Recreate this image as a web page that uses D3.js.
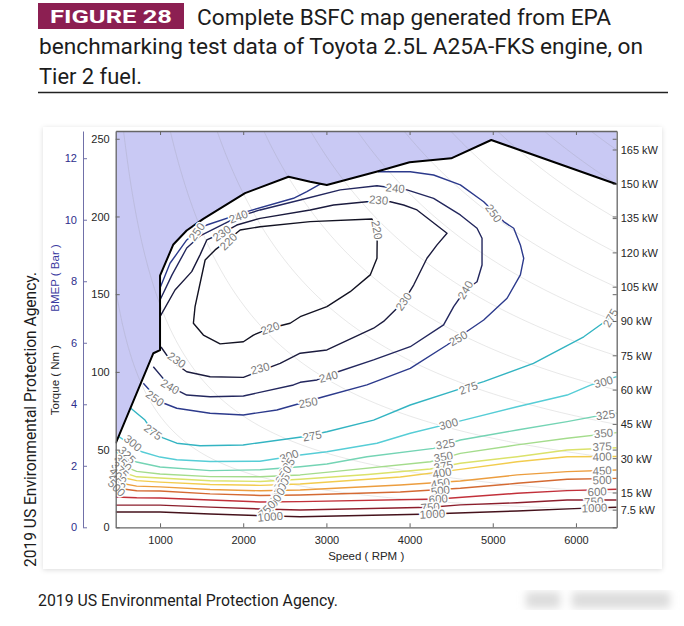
<!DOCTYPE html>
<html>
<head>
<meta charset="utf-8">
<script src="https://cdn.jsdelivr.net/npm/d3@7"></script>
<style>
body { margin: 0; background: #fff; }
svg { display: block; font-family: "Liberation Sans", Arial, sans-serif; }
</style>
</head>
<body>
<svg width="684" height="626"></svg>
<script>
// ---------------------------------------------------------------------
// data (speed in RPM, torque in Nm)
var speedTicks = [1000, 2000, 3000, 4000, 5000, 6000];
var torqueTicks = [0, 50, 100, 150, 200, 250];
var bmepTicks = [0, 2, 4, 6, 8, 10, 12];
var powerLevels = [7.5, 15, 30, 45, 60, 75, 90, 105, 120, 135, 150, 165];

// full load (WOT) torque curve
var wotCurve = [[467, 54], [920, 112], [1000, 114], [1000, 162], [1160, 182], [1320, 191],
    [1520, 198.5], [2022, 215], [2545, 225.6], [2805, 222.4], [3005, 220.3], [3600, 228.8],
    [4000, 234.9], [4500, 237.4], [4982, 249.2], [6490, 220.7]];

var bsfc220 = [[1963, 191.3], [2203, 193.4], [2805, 196.7], [3548, 198.4], [3611, 188.1], [3608, 173.1],
    [3527, 162.4], [3286, 151.6], [3006, 142], [2685, 135.5], [2564, 131.3], [2324, 128.1], [2123, 123.7],
    [2002, 119.4], [1722, 118], [1521, 123.7], [1401, 131.3], [1421, 142], [1542, 172], [1662, 178.5], [1818, 184.9]];
var bsfc230 = [[1000, 135.5], [1180, 152.7], [1381, 164.5], [1481, 175.3], [1562, 184.9], [1742, 189.2],
    [1923, 194.5], [2203, 198.8], [2805, 204.2], [3086, 207.4], [3487, 209.5], [3768, 209.5], [3928, 207.4],
    [4089, 204.2], [4450, 189.2], [4330, 181.7], [4209, 173.1], [4049, 155.9], [3928, 145.2], [3687, 132.5],
    [3567, 128.1], [3006, 114.1], [2685, 112], [2444, 105.5], [2002, 96.5], [1602, 96.9], [1321, 100.1],
    [1120, 107.7], [1012, 116]];
var bsfc240 = [[1000, 146.3], [1144, 162.4], [1321, 179.7], [1481, 187.5], [1942, 199.9], [2203, 204.2],
    [2685, 210.6], [3166, 217.1], [3608, 219.8], [3969, 217.1], [4289, 211.7], [4610, 201], [4811, 192.4],
    [4871, 186], [4871, 168.8], [4811, 158], [4670, 152.7], [4530, 142], [4409, 130.2], [4008, 116.2],
    [3567, 107.7], [3086, 99.1], [2886, 94.8], [2685, 93.3], [2604, 91.6], [2002, 84.5], [1602, 84],
    [1321, 85.1], [1120, 90.5], [919, 103.3]];
var bsfc250 = [[799, 92.7], [1000, 80.8], [1201, 76.6], [1602, 73.4], [2002, 72.3], [2404, 75.5], [2965, 84],
    [3487, 91.6], [4008, 102.3], [4450, 117.3], [4891, 133.4], [5172, 147.4], [5332, 162.4], [5372, 173.1],
    [5332, 181.7], [5252, 192.4], [5131, 196.7], [4891, 209.5], [4610, 220.3], [4289, 226.7], [4008, 228.8],
    [3620, 228.8]];
var bsfc250top = [[1000, 154], [1120, 169.9], [1321, 184.9], [1442, 190.2], [1562, 194.5], [2043, 203.1],
    [2604, 211.7], [2765, 216], [2930, 221]];
var bsfc275 = [[645, 76.8], [819, 69], [916, 61.3], [1036, 57.6], [1201, 54.1], [1481, 52.5], [1999, 53],
    [2721, 58.3], [3006, 61.5], [3567, 69], [4008, 78.7], [4570, 88.4], [4891, 93.7], [5489, 105.5],
    [6094, 122.6], [6375, 133.4], [6490, 138.5]];
var bsfc300 = [[500, 58.5], [780, 48.6], [1000, 45.2], [1200, 43.5], [1602, 42.3], [2200, 42.5], [2685, 46.5],
    [3006, 48.6], [3608, 54.1], [4008, 60.5], [4650, 69], [5293, 77.6], [5894, 85.1], [6175, 91.5], [6490, 96.9]];
var bsfc325 = [[467, 48.5], [719, 42], [1000, 38.8], [1602, 36.5], [2203, 37], [2685, 39], [3006, 40.7],
    [3487, 45.4], [4289, 50.8], [4610, 56.2], [5293, 62.6], [5894, 68], [6214, 71.2], [6490, 73.4]];
var bsfc350 = [[467, 41.4], [719, 36], [1000, 34.3], [1602, 32.6], [2203, 32.5], [2685, 33.7], [3086, 35.8],
    [4249, 42.2], [4610, 47.6], [5293, 53], [5894, 57.3], [6490, 60.9]];
var bsfc375 = [[467, 37], [719, 32.5], [1000, 31.7], [1602, 30], [2203, 29.5], [2685, 30.9], [3500, 34],
    [4249, 37.5], [4610, 41.2], [5293, 45.4], [5894, 49.7], [6490, 51.2]];
var bsfc400 = [[467, 33], [719, 30], [1000, 29.1], [1602, 27.5], [2203, 27], [2685, 27.9], [3888, 32.4],
    [4610, 37.3], [5293, 42.2], [5894, 45.4], [6490, 45.6]];
var bsfc450 = [[467, 29], [719, 26.5], [1000, 26], [1602, 24.3], [2203, 23.5], [2685, 24], [3888, 27.2],
    [4610, 29.8], [5293, 33.7], [5894, 35.8], [6490, 36.9]];
var bsfc500 = [[467, 25.3], [719, 23.5], [1000, 23.4], [1602, 21.5], [2203, 20.5], [2685, 20.8], [3888, 22.7],
    [4610, 25.1], [5293, 28.3], [5894, 30.9], [6490, 31.5]];
var bsfc600 = [[467, 19.5], [719, 19], [1000, 18.9], [1602, 17.6], [2203, 16.3], [2685, 16.5], [4345, 18.2],
    [5293, 21.9], [5894, 23.6], [6490, 24.5]];
var bsfc750 = [[467, 14.3], [719, 14.3], [1000, 14.3], [1602, 13], [2203, 11.8], [2685, 11.1], [4249, 12.9],
    [4610, 14.4], [5293, 15.8], [5894, 17.6], [6490, 17.6]];
var bsfc1000 = [[467, 9.8], [1000, 9.8], [1602, 8.6], [2203, 7.5], [2685, 6.8], [4129, 8.4], [5293, 10.5],
    [6054, 12.2], [6490, 12.9]];

// [level, rpm, Nm, angle]
var contourLabels = [
    [220, 1822, 183.8, -45], [220, 3608, 191.3, 80], [220, 2324, 128.1, -20],
    [230, 1742, 189.2, -35], [230, 3627, 210.6, 5], [230, 3928, 145.2, -55], [230, 2203, 102.3, -15], [230, 1201, 107.7, 35],
    [240, 1942, 199.9, -20], [240, 3828, 218.2, 5], [240, 4670, 152.7, -60], [240, 3025, 96.9, -15], [240, 1120, 90.5, 30],
    [250, 1442, 190.2, -55], [250, 5011, 202, 55], [250, 4586, 121.6, -30], [250, 2781, 80.3, -10], [250, 940, 83, 35],
    [275, 916, 61.3, 35], [275, 2829, 58.8, -10], [275, 4706, 89.6, -20], [275, 6415, 134.7, -60],
    [300, 675, 54.2, 40], [300, 2552, 45.9, -20], [300, 4469, 66.5, -15], [300, 6331, 93.5, -15],
    [325, 603, 46.5, 45], [325, 2525, 39, -55], [325, 4430, 53.6, -10], [325, 6355, 72.3, -8],
    [350, 555, 41.4, 45], [350, 2484, 33.7, -55], [350, 4406, 45.4, -10], [350, 6331, 60.5, -5],
    [375, 519, 36.9, 45], [375, 2464, 29, -55], [375, 4406, 39.4, -10], [375, 6315, 51.9, -3],
    [400, 495, 33, 45], [400, 2452, 26.1, -55], [400, 4390, 35.1, -10], [400, 6315, 45.4, -3],
    [450, 483, 29.1, 45], [450, 2424, 22.9, -55], [450, 4370, 28.3, -10], [450, 6315, 36.4, -3],
    [500, 477, 25.3, 45], [500, 2404, 19.7, -55], [500, 4370, 23.6, -8], [500, 6315, 30.4, -3],
    [600, 2363, 15.4, -55], [600, 4345, 18.2, -5], [600, 6255, 22.9, -3],
    [750, 2284, 11.6, -45], [750, 4249, 12.9, -5], [750, 6214, 16.5, -3],
    [1000, 2324, 6.8, -5], [1000, 4273, 8.6, -3], [1000, 6223, 12.4, -2]
];

var contours = [
    {level: 1000, pts: bsfc1000}, {level: 750, pts: bsfc750}, {level: 600, pts: bsfc600},
    {level: 500, pts: bsfc500}, {level: 450, pts: bsfc450}, {level: 400, pts: bsfc400},
    {level: 375, pts: bsfc375}, {level: 350, pts: bsfc350}, {level: 325, pts: bsfc325},
    {level: 300, pts: bsfc300}, {level: 275, pts: bsfc275}, {level: 250, pts: bsfc250},
    {level: 250, pts: bsfc250top}, {level: 240, pts: bsfc240}, {level: 230, pts: bsfc230},
    {level: 220, pts: bsfc220, closed: true}
];

var levels = [220, 230, 240, 250, 275, 300, 325, 350, 375, 400, 450, 500, 600, 750, 1000];
var levelColor = d3.scaleOrdinal(levels, ["#121222", "#1b1b3e", "#23275e", "#2c3a8c", "#33b4c2",
    "#56cdd6", "#74d4b4", "#a4dc8c", "#dbe26a", "#f2cc4e", "#ec9d3e", "#d46a33", "#c2303a", "#8c1e2c", "#45121c"]);

// ---------------------------------------------------------------------
var svg = d3.select("svg");
var defs = svg.append("defs");

var shadow = defs.append("filter").attr("id", "shadow")
    .attr("x", "-5%").attr("y", "-5%").attr("width", "110%").attr("height", "110%");
shadow.append("feDropShadow").attr("dx", 0).attr("dy", 1).attr("stdDeviation", 2.5)
    .attr("flood-color", "#000").attr("flood-opacity", 0.14);
defs.append("filter").attr("id", "blur").append("feGaussianBlur").attr("stdDeviation", 4);

// header
svg.append("rect").attr("x", 38).attr("y", 3).attr("width", 146).attr("height", 26).attr("fill", "#8c1f52");
svg.append("text").attr("x", 50).attr("y", 23).attr("fill", "#fff")
    .style("font-family", "Roboto, 'Liberation Sans', sans-serif").style("font-weight", "bold").style("font-size", "19px")
    .attr("textLength", 122).attr("lengthAdjust", "spacingAndGlyphs").text("FIGURE 28");

var titleLines = [
    {t: "Complete BSFC map generated from EPA", x: 197, y: 25, w: 414},
    {t: "benchmarking test data of Toyota 2.5L A25A-FKS engine, on", x: 39, y: 54, w: 604},
    {t: "Tier 2 fuel.", x: 39, y: 84, w: 103}
];
svg.selectAll(".title").data(titleLines).enter().append("text")
    .attr("class", "title")
    .attr("x", function(d) { return d.x; })
    .attr("y", function(d) { return d.y; })
    .attr("textLength", function(d) { return d.w; })
    .attr("lengthAdjust", "spacingAndGlyphs")
    .attr("fill", "#1c1c1c")
    .style("font-family", "Roboto, 'Liberation Sans', sans-serif")
    .style("font-size", "22px")
    .text(function(d) { return d.t; });
svg.append("line").attr("x1", 38).attr("x2", 668).attr("y1", 92.5).attr("y2", 92.5)
    .attr("stroke", "#222").attr("stroke-width", 1.3);

// card behind the chart
svg.append("rect").attr("x", 43).attr("y", 127).attr("width", 619).attr("height", 442)
    .attr("fill", "#fff").attr("filter", "url(#shadow)");

// side + bottom credits
svg.append("text").attr("transform", "translate(36,567) rotate(-90)")
    .attr("fill", "#1c1c1c").style("font-family", "Roboto, 'Liberation Sans', sans-serif").style("font-size", "16px")
    .attr("textLength", 295).attr("lengthAdjust", "spacingAndGlyphs")
    .text("2019 US Environmental Protection Agency.");
svg.append("text").attr("x", 38).attr("y", 606)
    .attr("fill", "#1c1c1c").style("font-family", "Roboto, 'Liberation Sans', sans-serif").style("font-size", "16px")
    .attr("textLength", 300).attr("lengthAdjust", "spacingAndGlyphs")
    .text("2019 US Environmental Protection Agency.");
var blurG = svg.append("g").attr("filter", "url(#blur)").attr("fill", "#dcdcdc");
blurG.append("rect").attr("x", 526).attr("y", 592).attr("width", 34).attr("height", 16);
blurG.append("rect").attr("x", 572).attr("y", 592).attr("width", 98).attr("height", 16);

// ---------------------------------------------------------------------
// scales
var x = d3.scaleLinear().domain([467, 6490]).range([115.7, 616.7]);
var y = d3.scaleLinear().domain([0, 255]).range([527.3, 131]);
var bmepPerNm = 4 * Math.PI / (2.487 * 100);   // 2.487 L displacement
var yb = d3.scaleLinear().domain([0, 255 * bmepPerNm]).range([527.3, 131]);

var x0 = x.range()[0], x1 = x.range()[1], yTop = y.range()[1], yBot = y.range()[0];

defs.append("clipPath").attr("id", "plotclip").append("rect")
    .attr("x", x0).attr("y", yTop).attr("width", x1 - x0).attr("height", yBot - yTop);

var plot = svg.append("g").attr("clip-path", "url(#plotclip)");

// region above full load curve
plot.append("path")
    .datum(wotCurve)
    .attr("fill", "#c9c9f4")
    .attr("d", d3.area()
        .x(function(d) { return x(d[0]); })
        .y0(yTop)
        .y1(function(d) { return y(d[1]); }));

// constant power lines
var rpmSamples = d3.range(x.domain()[0], x.domain()[1] + 20, 20);
plot.selectAll(".power").data(powerLevels).enter().append("path")
    .attr("class", "power")
    .attr("fill", "none")
    .attr("stroke", "#8a8a8a")
    .attr("stroke-opacity", 0.22)
    .attr("stroke-width", 0.9)
    .attr("d", function(p) {
        return d3.line()
            .x(function(n) { return x(n); })
            .y(function(n) { return y(p * 60000 / (2 * Math.PI * n)); })(rpmSamples);
    });

// bsfc contours
plot.selectAll(".contour").data(contours).enter().append("path")
    .attr("class", "contour")
    .attr("fill", "none")
    .attr("stroke", function(d) { return levelColor(d.level); })
    .attr("stroke-width", 1.4)
    .attr("stroke-linejoin", "round")
    .attr("d", function(d) {
        return d3.line()
            .curve(d.closed ? d3.curveLinearClosed : d3.curveLinear)
            .x(function(p) { return x(p[0]); })
            .y(function(p) { return y(p[1]); })(d.pts);
    });

// full load boundary
plot.append("path").datum(wotCurve)
    .attr("fill", "none").attr("stroke", "#000").attr("stroke-width", 2).attr("stroke-linejoin", "round")
    .attr("d", d3.line().x(function(d) { return x(d[0]); }).y(function(d) { return y(d[1]); }));

// contour labels
svg.append("g").selectAll("text").data(contourLabels).enter().append("text")
    .attr("transform", function(d) {
        return "translate(" + x(d[1]) + "," + y(d[2]) + ") rotate(" + d[3] + ")";
    })
    .attr("text-anchor", "middle")
    .attr("dy", "0.35em")
    .attr("fill", "#7c7c7c")
    .attr("stroke", "#fff")
    .attr("stroke-width", 3)
    .attr("paint-order", "stroke")
    .style("font-size", "11.5px")
    .text(function(d) { return d[0]; });

// ---------------------------------------------------------------------
// axes
function styleAxis(g) {
    g.select(".domain").attr("stroke", "#666").attr("stroke-width", 1.3);
    g.selectAll(".tick line").attr("stroke", "#666");
    g.selectAll(".tick text").attr("fill", "#262626").style("font-size", "11px")
        .style("font-family", "'Liberation Sans', Arial, sans-serif");
}

svg.append("g").attr("transform", "translate(0," + yBot + ")")
    .call(d3.axisBottom(x).tickValues(speedTicks).tickFormat(d3.format("d")).tickSize(-4).tickSizeOuter(0).tickPadding(9))
    .call(styleAxis);
svg.append("g").attr("transform", "translate(0," + yTop + ")")
    .call(d3.axisTop(x).tickValues(speedTicks).tickFormat("").tickSize(-4).tickSizeOuter(0))
    .call(styleAxis);
svg.append("g").attr("transform", "translate(" + x0 + ",0)")
    .call(d3.axisLeft(y).tickValues(torqueTicks).tickSize(-4).tickSizeOuter(0).tickPadding(6))
    .call(styleAxis);
svg.append("g").attr("transform", "translate(" + x1 + ",0)")
    .call(d3.axisRight(y).tickValues(torqueTicks).tickFormat("").tickSize(-4).tickSizeOuter(0))
    .call(styleAxis);

// bmep axis
var bmepAxis = svg.append("g").attr("transform", "translate(83,0)")
    .call(d3.axisLeft(yb).tickValues(bmepTicks).tickSize(-4).tickSizeOuter(0).tickPadding(6));
bmepAxis.select(".domain").attr("stroke", "#7070a8").attr("stroke-width", 1);
bmepAxis.selectAll(".tick line").attr("stroke", "#7070a8");
bmepAxis.selectAll(".tick text").attr("fill", "#2e2e8c").style("font-size", "11px");

// power labels at right edge
var rpmEdge = x.domain()[1];
var kw = svg.append("g").selectAll("g").data(powerLevels).enter().append("g")
    .attr("transform", function(p) { return "translate(" + x1 + "," + y(p * 60000 / (2 * Math.PI * rpmEdge)) + ")"; });
kw.append("line").attr("x1", -4).attr("x2", 0).attr("stroke", "#666");
kw.append("text").attr("x", 4).attr("dy", "0.35em").attr("fill", "#262626").style("font-size", "11px")
    .text(function(p) { return p + " kW"; });

// axis titles
svg.append("text").attr("x", (x0 + x1) / 2).attr("y", 560).attr("text-anchor", "middle")
    .attr("fill", "#262626").style("font-size", "11.5px").text("Speed ( RPM )");
svg.append("text").attr("transform", "translate(59,380) rotate(-90)").attr("text-anchor", "middle")
    .attr("fill", "#262626").style("font-size", "11.5px").text("Torque ( Nm )");
svg.append("text").attr("transform", "translate(59,278) rotate(-90)").attr("text-anchor", "middle")
    .attr("fill", "#3a3aa0").style("font-size", "11.5px").text("BMEP ( Bar )");
</script>
</body>
</html>
